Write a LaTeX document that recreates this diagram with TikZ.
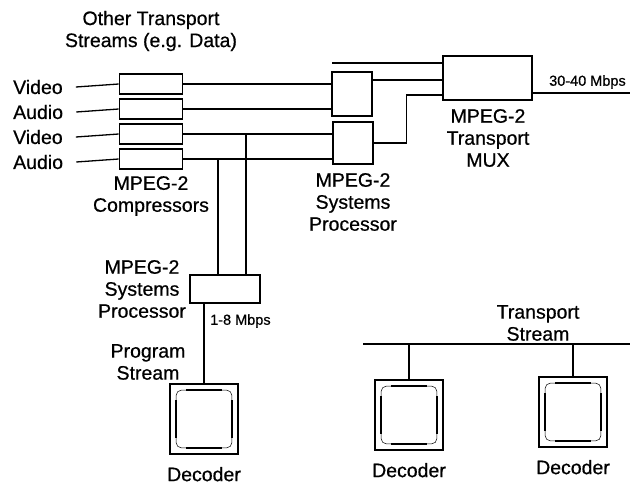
\documentclass[tikz,border=0pt]{standalone}
\usepackage{fontspec}
\setmainfont{Liberation Sans}[FakeBold=0.6]
\usetikzlibrary{positioning}

\tikzstyle{comp}=[draw,line width=1.6pt,minimum width=63pt,minimum height=20pt,inner sep=0pt]
\tikzstyle{sysproc}=[draw,line width=1.6pt,inner sep=0pt]
\tikzstyle{decoder}=[draw,line width=1.6pt,minimum width=68pt,minimum height=70pt,inner sep=0pt]
\tikzstyle{wire}=[draw,line width=1.3pt]
\tikzstyle{lbl}=[font=\fontsize{19.5}{22}\selectfont,align=center,inner sep=0pt]
\tikzstyle{rate}=[font=\fontsize{14.5}{17}\selectfont,inner sep=0pt]

\begin{document}
\begin{tikzpicture}[x=1pt,y=-1pt]
\useasboundingbox (0,0) rectangle (630,485);
% compressors and their inputs
\foreach \i/\y/\txt in {1/84/Video, 2/109/Audio, 3/134/Video, 4/159/Audio}{
  \node[comp] (c\i) at (151,\y) {};
  \node[lbl,anchor=west] (in\i) at (13,\y+3) {\txt};
  \draw[wire] ([xshift=13pt]in\i.east) -- (c\i.west);
}
\node[sysproc,minimum width=40pt,minimum height=44pt] (sp1) at (352,94) {};
\node[sysproc,minimum width=40pt,minimum height=42pt] (sp2) at (353,143) {};
\node[sysproc,minimum width=89pt,minimum height=44pt] (mux) at (487.5,78) {};
\node[sysproc,minimum width=70pt,minimum height=28pt] (sp3) at (225,289) {};
\foreach \name/\pos in {dec1/{(204,419)}, dec2/{(409,415)}, dec3/{(573,412)}}
  \node[decoder] (\name) at \pos {};

\foreach \src/\dst in {c1/sp1, c2/sp1, c3/sp2, c4/sp2}
  \draw[wire] (\src.east) -- (\src.east -| \dst.west);
\coordinate (ots) at (332,63);
\draw[wire] (ots) -- (ots -| mux.west);
\draw[wire] ([yshift=14pt]sp1.east) -- ([yshift=14pt]sp1.east -| mux.west);
\draw[wire] (sp2.east) -- ++(33,0) |- ([yshift=-17pt]mux.west);
\coordinate (out) at (630,93);
\draw[wire] (out -| mux.east) -- (out);

% program stream branch
\coordinate (b3) at (246,134);
\coordinate (b4) at (218,159);
\draw[wire] (b3) -- (b3 |- sp3.north);
\draw[wire] (b4) -- (b4 |- sp3.north);
\draw[wire] (sp3.south -| dec1.north) -- (dec1.north);

% transport stream
\coordinate (tsl) at (363,344);
\coordinate (tsr) at (630,344);
\draw[wire] (tsl) -- (tsr);
\draw[wire] (tsl -| dec2.north) -- (dec2.north);
\draw[wire] (tsl -| dec3.north) -- (dec3.north);

\foreach \d in {dec1,dec2,dec3}{
  \draw[line width=.5pt,rounded corners=5pt] ([shift={(7pt,7pt)}]\d.south west) rectangle ([shift={(-7pt,-7pt)}]\d.north east);
  \draw[line width=2.2pt] ([shift={(17pt,-7pt)}]\d.north west) -- ([shift={(-17pt,-7pt)}]\d.north east);
  \draw[line width=2.2pt] ([shift={(17pt,7pt)}]\d.south west) -- ([shift={(-17pt,7pt)}]\d.south east);
  \draw[line width=2.2pt] ([shift={(7pt,17pt)}]\d.south west) -- ([shift={(7pt,-17pt)}]\d.north west);
  \draw[line width=2.2pt] ([shift={(-7pt,17pt)}]\d.south east) -- ([shift={(-7pt,-17pt)}]\d.north east);
  \node[lbl,below=12pt of \d] (\d lbl) {Decoder};
}

% labels
\node[lbl] (other) at (151,31) {Other Transport\\Streams (e.g. Data)};
\node[lbl] (complbl) at (151,196) {MPEG-2\\Compressors};
\node[lbl] (sp2lbl) at (353,202) {MPEG-2\\Systems\\Processor};
\node[lbl] (muxlbl) at (488,138) {MPEG-2\\Transport\\MUX};
\node[lbl] (sp3lbl) at (142,289) {MPEG-2\\Systems\\Processor};
\node[rate,anchor=west] (r1) at (210,321) {1-8 Mbps};
\node[rate,anchor=west] (r2) at (549,82) {30-40 Mbps};
\node[lbl] (prog) at (148,362) {Program\\Stream};
\node[lbl] (tslbl) at (538,323) {Transport\\Stream};
\end{tikzpicture}
\end{document}
